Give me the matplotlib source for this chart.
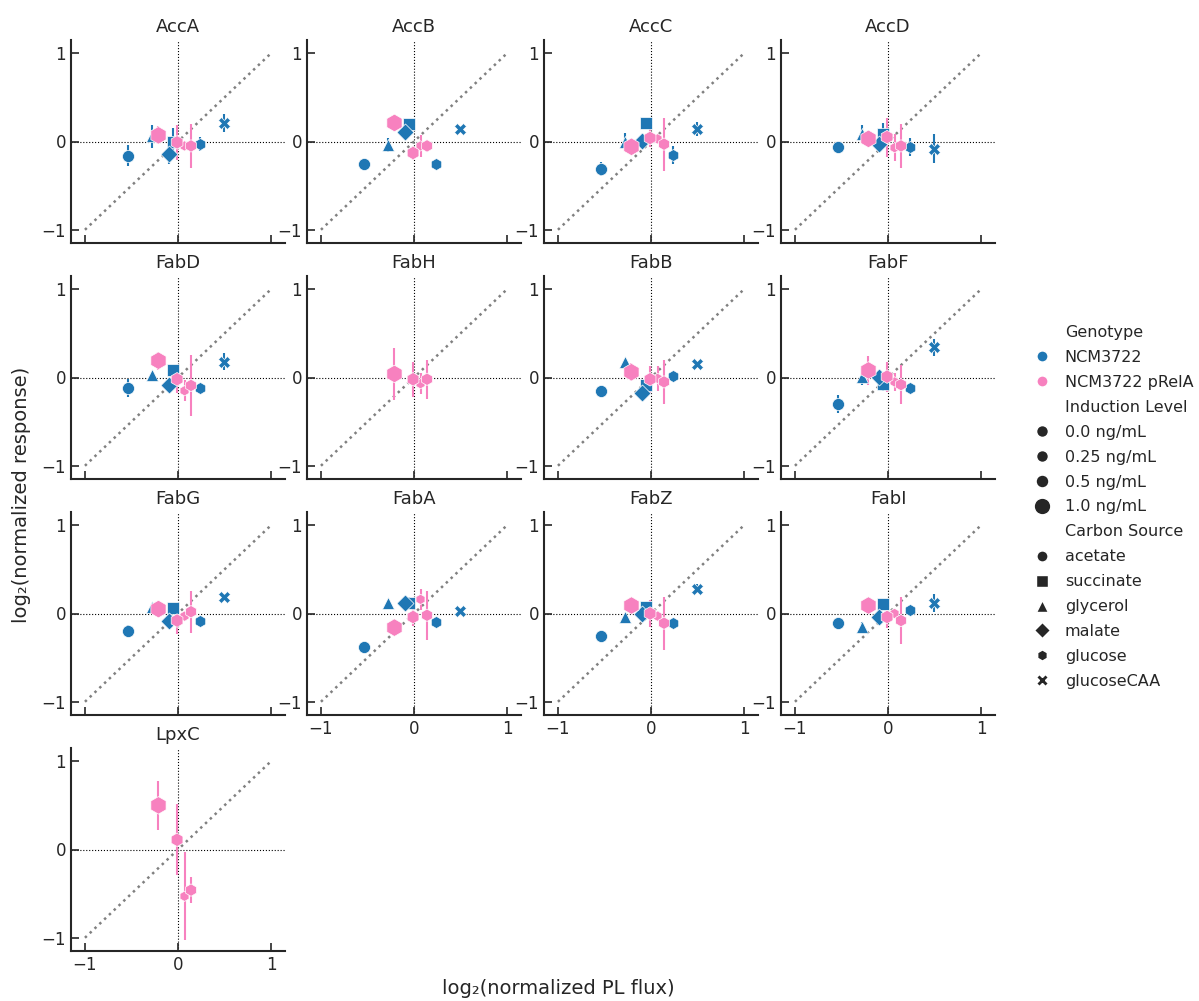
import numpy as np
import matplotlib
matplotlib.use("Agg")
import matplotlib.pyplot as plt
from matplotlib.lines import Line2D

plt.rcParams['font.family'] = ['DejaVu Sans']

proteins = ["AccA", "AccB", "AccC", "AccD", "FabD", "FabH", "FabB", "FabF",
            "FabG", "FabA", "FabZ", "FabI", "LpxC"]

# wild type (NCM3722), one point per carbon source, 0.0 ng/mL induction
carbon_sources = ["acetate", "succinate", "glycerol", "malate", "glucose", "glucoseCAA"]
wt_flux = [-0.54, -0.05, -0.28, -0.10, 0.24, 0.49]
wt_resp = {
    "AccA": [-0.16, 0.00, 0.06, -0.14, -0.03, 0.21],
    "AccB": [-0.26, 0.20, -0.04, 0.11, -0.25, 0.14],
    "AccC": [-0.31, 0.21, 0.00, 0.01, -0.15, 0.14],
    "AccD": [-0.06, 0.09, 0.09, -0.03, -0.06, -0.08],
    "FabD": [-0.12, 0.08, 0.03, -0.08, -0.12, 0.18],
    "FabB": [-0.15, -0.08, 0.18, -0.18, 0.02, 0.15],
    "FabF": [-0.30, -0.07, 0.01, 0.01, -0.12, 0.34],
    "FabG": [-0.20, 0.06, 0.07, -0.08, -0.08, 0.19],
    "FabA": [-0.38, 0.12, 0.12, 0.12, -0.10, 0.03],
    "FabZ": [-0.26, 0.07, -0.04, -0.01, -0.11, 0.28],
    "FabI": [-0.11, 0.11, -0.15, -0.04, 0.04, 0.12],
}
wt_err = {
    "AccA": [0.12, 0.15, 0.13, 0.12, 0.08, 0.10],
    "AccB": [0.04, 0.03, 0.08, 0.03, 0.02, 0.03],
    "AccC": [0.08, 0.05, 0.10, 0.04, 0.10, 0.08],
    "AccD": [0.02, 0.12, 0.10, 0.05, 0.10, 0.16],
    "FabD": [0.10, 0.05, 0.02, 0.04, 0.03, 0.10],
    "FabB": [0.05, 0.06, 0.02, 0.07, 0.03, 0.03],
    "FabF": [0.10, 0.08, 0.10, 0.05, 0.04, 0.10],
    "FabG": [0.07, 0.03, 0.02, 0.04, 0.03, 0.03],
    "FabA": [0.03, 0.07, 0.02, 0.04, 0.03, 0.03],
    "FabZ": [0.03, 0.04, 0.02, 0.04, 0.03, 0.05],
    "FabI": [0.03, 0.03, 0.05, 0.04, 0.04, 0.10],
}
wt_markers = ["o", "s", "^", "D", "h", "X"]

# NCM3722 pRelA on glucose at four induction levels
induction = [0.0, 0.25, 0.5, 1.0]
induction_labels = ["0.0 ng/mL", "0.25 ng/mL", "0.5 ng/mL", "1.0 ng/mL"]
induction_sizes = [55, 80, 95, 160]
relA_flux = [0.07, 0.14, -0.01, -0.21]
relA_resp = {
    "AccA": [-0.05, -0.05, -0.01, 0.07],
    "AccB": [-0.05, -0.05, -0.13, 0.21],
    "AccC": [0.03, -0.03, 0.04, -0.06],
    "AccD": [-0.07, -0.05, 0.05, 0.03],
    "FabD": [-0.15, -0.09, -0.02, 0.19],
    "FabH": [-0.07, -0.02, -0.02, 0.04],
    "FabB": [-0.01, -0.05, -0.02, 0.06],
    "FabF": [-0.05, -0.08, 0.01, 0.08],
    "FabG": [-0.03, 0.02, -0.08, 0.05],
    "FabA": [0.16, -0.02, -0.04, -0.16],
    "FabZ": [-0.03, -0.11, 0.00, 0.09],
    "FabI": [0.00, -0.08, -0.04, 0.09],
    "LpxC": [-0.53, -0.46, 0.11, 0.50],
}
relA_err = {
    "AccA": [0.05, 0.25, 0.20, 0.10],
    "AccB": [0.12, 0.04, 0.08, 0.03],
    "AccC": [0.06, 0.30, 0.10, 0.08],
    "AccD": [0.15, 0.25, 0.22, 0.04],
    "FabD": [0.12, 0.35, 0.15, 0.10],
    "FabH": [0.12, 0.22, 0.20, 0.29],
    "FabB": [0.14, 0.25, 0.15, 0.10],
    "FabF": [0.10, 0.22, 0.17, 0.16],
    "FabG": [0.05, 0.24, 0.15, 0.03],
    "FabA": [0.12, 0.28, 0.10, 0.10],
    "FabZ": [0.06, 0.30, 0.15, 0.05],
    "FabI": [0.05, 0.27, 0.12, 0.04],
    "LpxC": [0.50, 0.15, 0.40, 0.28],
}

blue = "#1f77b4"
pink = "#f781bf"
W, H = 1199, 1001

fig = plt.figure(figsize=(W / 100, H / 100), dpi=100)

col_left = [71, 307, 544, 781]
row_top = [40, 276, 512, 748]
aw, ah = 214, 203

for i, name in enumerate(proteins):
    r, c = divmod(i, 4)
    ax = fig.add_axes([col_left[c] / W, (H - row_top[r] - ah) / H, aw / W, ah / H])
    ax.set_xlim(-1.15, 1.15)
    ax.set_ylim(-1.15, 1.15)
    ax.axhline(0, color="k", ls=":", lw=0.8, zorder=1)
    ax.axvline(0, color="k", ls=":", lw=0.8, zorder=1)
    ax.plot([-1, 1], [-1, 1], ls=":", color="grey", lw=1.8, zorder=1)

    if name in wt_resp:
        ax.errorbar(wt_flux, wt_resp[name], yerr=wt_err[name], fmt="none",
                    ecolor=blue, elinewidth=1.5, zorder=2)
        for xx, yy, mk in zip(wt_flux, wt_resp[name], wt_markers):
            ax.scatter(xx, yy, s=75, marker=mk, color=blue, edgecolor="white",
                       linewidth=0.5, zorder=3)

    ax.errorbar(relA_flux, relA_resp[name], yerr=relA_err[name], fmt="none",
                ecolor=pink, elinewidth=1.5, zorder=2)
    ax.scatter(relA_flux, relA_resp[name], s=induction_sizes, marker="h",
               color=pink, edgecolor="white", linewidth=0.5, zorder=3)

    ax.set_title(name, fontsize=13, color="#262626")
    ax.spines["top"].set_visible(False)
    ax.spines["right"].set_visible(False)
    for s in ["left", "bottom"]:
        ax.spines[s].set_linewidth(1.5)
        ax.spines[s].set_color("#262626")
    ax.set_xticks([-1, 0, 1])
    ax.set_yticks([-1, 0, 1])
    ax.tick_params(direction="in", length=6, width=1.2, labelsize=12,
                   colors="#262626")
    bottom_row = (r == 3) or (r == 2 and c > 0)
    if not bottom_row:
        ax.tick_params(labelbottom=False)

fig.text(558 / W, 1 - 988 / H, "log₂(normalized PL flux)", ha="center",
         va="center", fontsize=14, color="#262626")
fig.text(22 / W, 1 - 495 / H, "log₂(normalized response)", ha="center",
         va="center", rotation=90, fontsize=14, color="#262626")

# seaborn-like legend with sub titles
blank = Line2D([], [], linestyle="none", marker=None)
handles = [blank,
           Line2D([], [], ls="none", marker="o", color=blue, markeredgecolor="white", markersize=8),
           Line2D([], [], ls="none", marker="o", color=pink, markeredgecolor="white", markersize=8),
           blank]
labels = ["Genotype", "NCM3722", "NCM3722 pRelA", "Induction Level"]
for lab, sz in zip(induction_labels, induction_sizes):
    handles.append(Line2D([], [], ls="none", marker="o", color="#262626",
                          markeredgecolor="white", markersize=max(np.sqrt(sz) * 0.95, 8.5)))
    labels.append(lab)
handles.append(blank)
labels.append("Carbon Source")
for cs, mk in zip(carbon_sources, wt_markers):
    handles.append(Line2D([], [], ls="none", marker=mk, color="#262626",
                          markeredgecolor="white", markersize=8))
    labels.append(cs)

fig.legend(handles, labels, loc="center left", bbox_to_anchor=(1012 / W, 1 - 507 / H),
           frameon=False, fontsize=11.5, handletextpad=0.4, labelspacing=0.62,
           labelcolor="#262626")

plt.savefig("out.png", dpi=100)
